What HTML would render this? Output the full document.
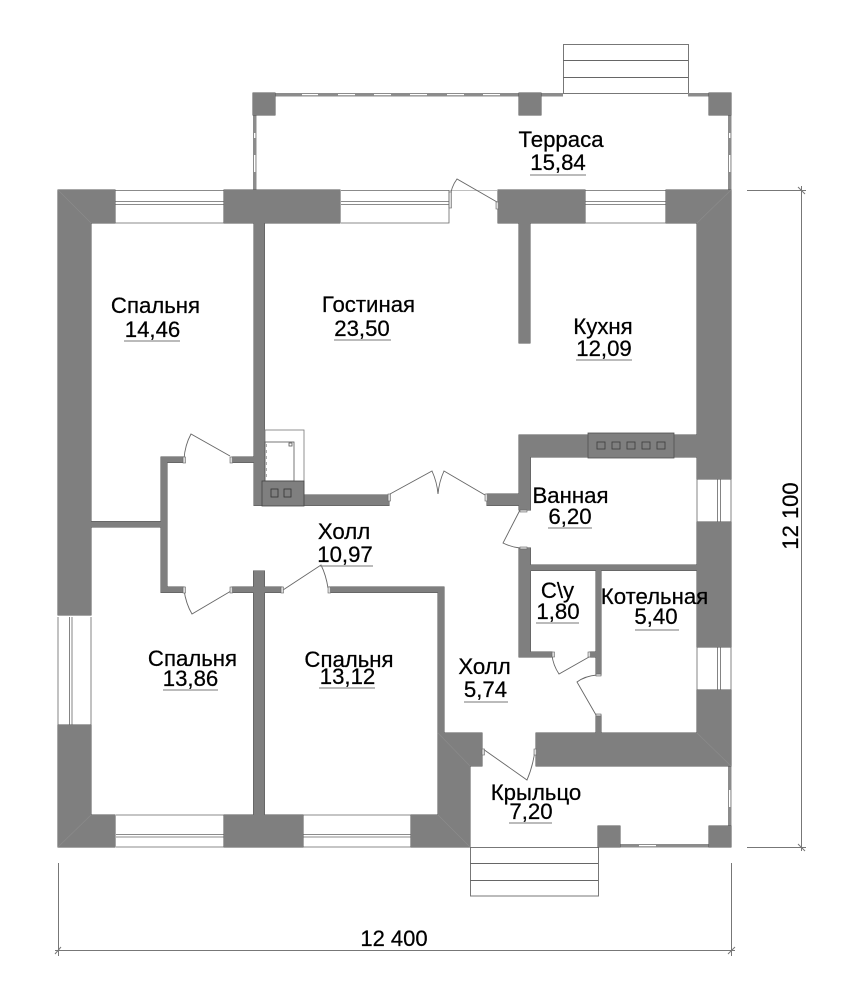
<!DOCTYPE html>
<html><head><meta charset="utf-8"><style>
html,body{margin:0;padding:0;background:#fff;width:845px;height:1000px;overflow:hidden}
svg{display:block}
text{font-family:"Liberation Sans",sans-serif;font-size:22.2px;fill:#000;stroke:#000;stroke-width:0.25px;text-anchor:middle}
</style></head><body>
<svg width="845" height="1000" viewBox="0 0 845 1000" xmlns="http://www.w3.org/2000/svg">
<rect width="845" height="1000" fill="#fff"/>
<!-- stairs -->
<g fill="none" stroke="#777" stroke-width="1">
<rect x="563.5" y="44.5" width="125" height="49"/><path d="M563 60.5H688M563 77.5H688" stroke="#666"/>
<rect x="470.5" y="847.5" width="128" height="48.5"/><path d="M470 863.5H598M470 880.5H598" stroke="#666"/>
</g>
<!-- terrace / porch rails -->
<g fill="#8c8c8c">
<rect x="253" y="93" width="310" height="3.5"/><rect x="688" y="93" width="43" height="3.5"/>
<rect x="253" y="93" width="3.5" height="98"/><rect x="728" y="93" width="3.5" height="98"/>
<rect x="728" y="766" width="3.5" height="62"/><rect x="620" y="844" width="90" height="3.5"/>
</g>
<g fill="#fff">
<rect x="302" y="94" width="16" height="1.2"/><rect x="338" y="94" width="17" height="1.2"/><rect x="374" y="94" width="17" height="1.2"/><rect x="410" y="94" width="17" height="1.2"/><rect x="447" y="94" width="17" height="1.2"/><rect x="483" y="94" width="17" height="1.2"/>
<rect x="254" y="133" width="1.4" height="5"/><rect x="254" y="155" width="1.4" height="17"/><rect x="729" y="133" width="1.4" height="5"/><rect x="729" y="155" width="1.4" height="17"/>
<rect x="729" y="790" width="1.4" height="17"/><rect x="639" y="845" width="17" height="1.2"/>
</g>
<defs>
<path id="w" d="M58 190H115V223H58Z M224 190H340V223H224Z M498 190H585V223H498Z M666 190H731V223H666Z
M58 190H91V615H58Z M58 725H91V847H58Z M58 815H115V847H58Z M224 815H303V847H224Z M411 815H470V847H411Z
M697 190H731V479H697Z M697 522H731V647H697Z M697 690H731V766H697Z
M438 733H470V847H438Z M438 733H482V766H438Z M536 733H731V766H536Z
M254 223H264.500V505.500H254Z M519 223H530V343H519Z
M91 521.500H162V527H91Z M161 457H167V592.500H161Z M161 457H184V462.500H161Z M161 587H184V592.500H161Z M232 457H254V462.500H232Z
M232 587H282V592.500H232Z M253.500 571H264.500V815H253.500Z M329 587H444V592.500H329Z M438 587H444V733H438Z
M254 495H389V505.500H254Z M487 494H520V505.500H487Z
M519 435H530.500V510H519Z M519 435H697V457H519Z M519 548H530.500V657H519Z M519 652H552V657H519Z
M530 565H697V570.500H530Z M596 570H601V675H596Z M590 652H597V657H590Z M596 715H601V734H596Z
M253 93H275V115H253Z M519 93H541V115H519Z M709 93H731V115H709Z M598 826H620V847H598Z M709 826H731V847H709Z"/>
</defs>
<use href="#w" fill="none" stroke="#4f4f4f" stroke-width="1"/>
<use href="#w" fill="#7f7f7f"/>
<!-- corner diagonals -->
<g stroke="#8c8c8c" stroke-width="0.6" fill="none">
<path d="M58 190L91 223M731 190L697 223M58 847L91 815M731 766L697 733M470 847L438 815M438 733L470 766"/>
</g>
<!-- windows -->
<g fill="none" stroke="#666" stroke-width="0.8">
<path d="M115 190.500H224M115 223H224M115 201.500H224M115 204.500H224"/>
<path d="M341 190.500H449M341 223H449V190M341 201.500H449M341 204.500H449"/>
<path d="M585 190.500H666M585 223H666M585 201.500H666M585 204.500H666"/>
<path d="M116 815H224M116 847H224M116 834.500H224M116 837H224"/>
<path d="M303 815H411M303 847H411M303 834.500H411M303 837H411"/>
<path d="M58 617V725M91 617V725M69.500 617V725M72 617V725"/>
<path d="M697 479V522M731 479V522M717.500 479V522M720.500 479V522"/>
<path d="M697 647V690M731 647V690M717.500 647V690M720.500 647V690"/>
<path d="M449 190.500H498" stroke="#aaa"/>
</g>
<!-- fireplace -->
<g fill="none" stroke="#555" stroke-width="0.8">
<rect x="265" y="430" width="39" height="65" stroke="#777"/>
<rect x="265" y="442" width="29" height="39"/>
<path d="M266 444V480" stroke="#aaa" stroke-dasharray="3 3" stroke-width="2"/>
<rect x="262" y="481" width="42" height="25" fill="#7f7f7f" stroke="#444"/>
<rect x="271" y="489" width="7" height="8" stroke="#333"/><rect x="284" y="489" width="7" height="8" stroke="#333"/>
<rect x="289" y="443" width="3" height="3"/>
</g>
<!-- vent -->
<rect x="588" y="433" width="86" height="25" fill="#7f7f7f" stroke="#4f4f4f" stroke-width="0.8"/>
<g fill="none" stroke="#3c3c3c" stroke-width="0.8">
<rect x="597" y="442" width="8" height="7"/><rect x="612" y="442" width="8" height="7"/><rect x="627" y="442" width="8" height="7"/><rect x="642" y="442" width="8" height="7"/><rect x="657" y="442" width="8" height="7"/>
</g>
<!-- doors -->
<g fill="none" stroke="#666" stroke-width="0.9">
<path d="M450 198Q451 187 457 179L497 202"/>
<path d="M184 459Q185 445 191 434L230 456"/>
<path d="M184 590Q186 604 192 614L231 591"/>
<path d="M283 590L321 565Q326 575 328 588"/>
<path d="M390 494L432 471Q437 482 438 494Q439 482 444 471L485 495"/>
<path d="M520 510L503 543Q511 547 520 548"/>
<path d="M552 655Q553 665 559 674L589 657"/>
<path d="M597 675Q585 676 577 682L596 715"/>
<path d="M483 749L527 780Q533 766 535 750"/>
</g>
<g fill="#ddd" stroke="#666" stroke-width="0.6">
<rect x="449" y="192" width="2.500" height="16"/><rect x="496" y="202" width="2.500" height="7"/>
<rect x="183" y="457" width="2.500" height="6"/><rect x="230" y="457" width="2.500" height="6"/>
<rect x="183" y="587" width="2.500" height="6"/><rect x="230" y="587" width="2.500" height="6"/>
<rect x="281" y="587" width="2.500" height="6"/><rect x="328" y="587" width="2.500" height="6"/>
<rect x="388" y="494" width="2.500" height="7"/><rect x="485" y="494" width="2.500" height="7"/>
<rect x="520" y="510" width="7" height="2"/><rect x="520" y="547" width="7" height="2"/>
<rect x="552" y="652" width="2.500" height="5"/><rect x="588" y="652" width="2.500" height="5"/>
<rect x="596" y="674" width="5" height="2"/><rect x="596" y="714" width="5" height="2"/>
<rect x="482" y="749" width="2.500" height="6"/><rect x="534" y="749" width="2.500" height="6"/>
</g>
<!-- underlines -->
<g stroke="#777" stroke-width="1" fill="none">
<path d="M530 175H586M124 341H180M334 340H391M576 360H632M548 528H592M319 566H373M536 623H579M635 630H679M464 702H508M509 823H552M163 690H218M319 688H375"/>
</g>
<!-- dimensions -->
<g stroke="#777" stroke-width="1" fill="none">
<path d="M58.500 863V956M731.500 863V956M55 950.500H735M55 954L61 947M728 954L735 947"/>
<path d="M801.500 186V851M747 190.500H806M747 847.500H806M798 187L805 194M798 844L805 851"/>
</g>
<!-- labels -->
<text x="561" y="147">Терраса</text><text x="558" y="170">15,84</text>
<text x="155.500" y="313">Спальня</text><text x="152.500" y="337">14,46</text>
<text x="368.500" y="312">Гостиная</text><text x="362" y="336">23,50</text>
<text x="603" y="334">Кухня</text><text x="604" y="356">12,09</text>
<text x="570.500" y="503">Ванная</text><text x="570" y="524">6,20</text>
<text x="344" y="539">Холл</text><text x="345" y="562">10,97</text>
<text x="557.500" y="598">С\у</text><text x="558" y="619">1,80</text>
<text x="654.500" y="604">Котельная</text><text x="656" y="624">5,40</text>
<text x="484.500" y="674">Холл</text><text x="485.500" y="697">5,74</text>
<text x="536" y="800">Крыльцо</text><text x="531" y="819">7,20</text>
<text x="192.500" y="666">Спальня</text><text x="190.500" y="686">13,86</text>
<text x="349" y="667">Спальня</text><text x="347.500" y="684">13,12</text>
<text x="394" y="946" style="font-size:22px">12 400</text>
<text x="0" y="0" style="font-size:22px" transform="translate(798 516) rotate(-90)">12 100</text>
</svg>
</body></html>
